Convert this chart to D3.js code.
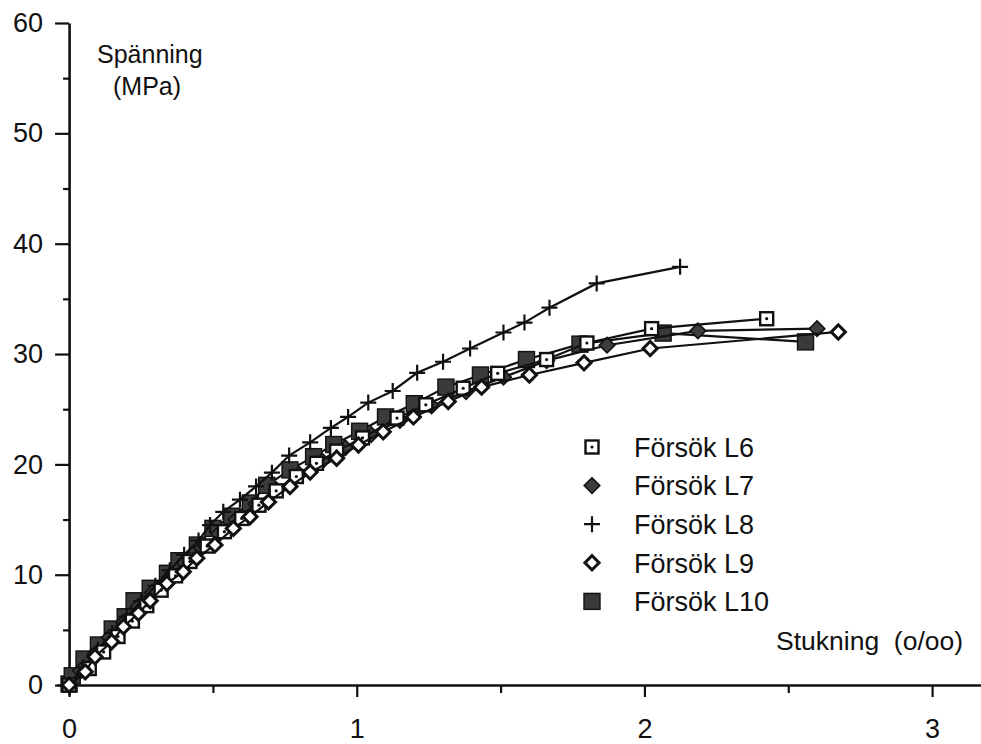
<!DOCTYPE html>
<html lang="sv">
<head>
<meta charset="UTF-8">
<title>Spänning - Stukning</title>
<script src="https://d3js.org/d3.v7.min.js"></script>
<style>
  body { margin: 0; background: #fff; }
  text { font-family: "Liberation Sans", Arial, Helvetica, sans-serif; fill: #111; }
</style>
</head>
<body>
<svg></svg>
<script>
  // [stukning (o/oo), spänning (MPa)]
  const seriesNames = ['Försök L6', 'Försök L7', 'Försök L8', 'Försök L9', 'Försök L10']

  const l6 = [[0, 0], [0.07, 1.5], [0.12, 3.0], [0.17, 4.4], [0.22, 5.8], [0.27, 7.2], [0.32, 8.6], [0.37, 9.9],
    [0.42, 11.2], [0.48, 12.6], [0.54, 13.9], [0.60, 15.1], [0.66, 16.3], [0.72, 17.6], [0.79, 18.9], [0.86, 20.1],
    [0.93, 21.2], [1.02, 22.4], [1.14, 24.2], [1.24, 25.4], [1.37, 26.9], [1.49, 28.25], [1.66, 29.5], [1.80, 31.0],
    [2.025, 32.3], [2.425, 33.2]]

  const l7 = [[0, 0], [0.04, 1.3], [0.09, 2.8], [0.14, 4.3], [0.19, 5.7], [0.24, 7.1], [0.29, 8.4], [0.35, 9.8],
    [0.40, 11.1], [0.46, 12.4], [0.52, 13.7], [0.58, 15.0], [0.65, 16.4], [0.72, 17.7], [0.80, 19.1], [0.88, 20.3],
    [0.96, 21.5], [1.05, 22.7], [1.15, 24.0], [1.26, 25.3], [1.38, 26.6], [1.51, 27.9], [1.66, 29.4], [1.87, 30.8],
    [2.186, 32.1], [2.6, 32.3]]

  const l8 = [[0, 0], [0.05, 1.6], [0.10, 3.2], [0.15, 4.7], [0.20, 6.2], [0.25, 7.6], [0.30, 9.0], [0.35, 10.4],
    [0.40, 11.8], [0.45, 13.1], [0.49, 14.5], [0.536, 15.7], [0.594, 16.8], [0.65, 18.0], [0.705, 19.25],
    [0.765, 20.8], [0.838, 22.0], [0.91, 23.3], [0.97, 24.3], [1.04, 25.6], [1.125, 26.65], [1.21, 28.3],
    [1.30, 29.3], [1.394, 30.5], [1.51, 31.95], [1.583, 32.85], [1.67, 34.2], [1.834, 36.4], [2.124, 37.9]]

  const l9 = [[0, 0], [0.056, 1.2], [0.09, 2.57], [0.148, 3.93], [0.189, 5.29], [0.241, 6.5], [0.282, 7.64],
    [0.34, 9.2], [0.397, 10.27], [0.444, 11.5], [0.507, 12.7], [0.571, 14.2], [0.629, 15.26], [0.693, 16.6],
    [0.768, 18.0], [0.838, 19.3], [0.93, 20.55], [1.006, 21.76], [1.092, 22.96], [1.197, 24.3], [1.318, 25.7],
    [1.434, 27.0], [1.60, 28.1], [1.79, 29.2], [2.02, 30.5], [2.674, 32.0]]

  const l10 = [[0, 0.1], [0.011, 0.84], [0.052, 2.36], [0.102, 3.63], [0.15, 5.08], [0.195, 6.19], [0.226, 7.64],
    [0.282, 8.77], [0.342, 10.13], [0.382, 11.27], [0.446, 12.69], [0.50, 14.2], [0.565, 15.3], [0.63, 16.5],
    [0.687, 18.1], [0.768, 19.5], [0.85, 20.7], [0.92, 21.8], [1.01, 23.0], [1.10, 24.3], [1.20, 25.5],
    [1.31, 27.0], [1.43, 28.1], [1.59, 29.5], [1.776, 30.9], [2.065, 31.9], [2.56, 31.1]]

  const xMajor = [0, 1, 2, 3]
  const xMinor = [0.5, 1.5, 2.5]
  const yMajor = [0, 10, 20, 30, 40, 50, 60]
  const yMinor = [5, 15, 25, 35, 45, 55]

  const width = 981
  const height = 744

  const svg = d3.select('svg')
    .attr('width', width)
    .attr('height', height)

  // axlarna sticker ut lite förbi nollan
  const x = d3.scaleLinear().domain([-0.042, 3.17]).range([57, 981])
  const y = d3.scaleLinear().domain([-0.9, 60]).range([695, 23])

  // y-axel
  svg.append('g')
    .attr('transform', `translate(${x(0)},0)`)
    .call(d3.axisLeft(y).tickValues(yMinor).tickSize(6).tickFormat('').tickSizeOuter(0))
    .call(g => g.select('.domain').remove())
  svg.append('g')
    .attr('class', 'yaxis')
    .attr('transform', `translate(${x(0)},0)`)
    .call(d3.axisLeft(y).tickValues(yMajor).tickSize(14).tickPadding(12).tickFormat(d3.format('d')).tickSizeOuter(0))

  // x-axel
  svg.append('g')
    .attr('transform', `translate(0,${y(0)})`)
    .call(d3.axisBottom(x).tickValues(xMinor).tickSize(8).tickFormat('').tickSizeOuter(0))
    .call(g => g.select('.domain').remove())
  svg.append('g')
    .attr('class', 'xaxis')
    .attr('transform', `translate(0,${y(0)})`)
    .call(d3.axisBottom(x).tickValues(xMajor).tickSize(12).tickPadding(22).tickFormat(d3.format('d')).tickSizeOuter(0))

  svg.selectAll('.domain').attr('stroke', '#111').attr('stroke-width', 2.6)
  svg.selectAll('.tick line').attr('stroke', '#111').attr('stroke-width', 2.2)
  svg.selectAll('.tick text').style('font-size', '27px').attr('fill', '#111')

  // axeltitlar
  svg.append('text').attr('x', 97).attr('y', 63).style('font-size', '25px').text('Spänning')
  svg.append('text').attr('x', 113).attr('y', 95).style('font-size', '25px').text('(MPa)')
  svg.append('text').attr('x', 776).attr('y', 650).style('font-size', '26.5px')
    .attr('xml:space', 'preserve').style('white-space', 'pre').text('Stukning  (o/oo)')

  // markörer
  function marker(sel, kind) {
    if (kind === 'L6') {
      sel.append('rect').attr('x', -6.5).attr('y', -6.5).attr('width', 13).attr('height', 13)
        .attr('fill', '#fff').attr('stroke', '#111').attr('stroke-width', 2.4)
      sel.append('circle').attr('r', 1.6).attr('fill', '#111')
    } else if (kind === 'L7') {
      sel.append('rect').attr('x', -5.5).attr('y', -5.5).attr('width', 11).attr('height', 11)
        .attr('transform', 'rotate(45)')
        .attr('fill', '#3d3d3d').attr('stroke', '#111').attr('stroke-width', 1.6)
    } else if (kind === 'L8') {
      sel.append('path').attr('d', 'M-8,0H8M0,-8V8')
        .attr('stroke', '#111').attr('stroke-width', 2.2).attr('fill', 'none')
    } else if (kind === 'L9') {
      sel.append('rect').attr('x', -5).attr('y', -5).attr('width', 10).attr('height', 10)
        .attr('transform', 'rotate(45)')
        .attr('fill', '#fff').attr('stroke', '#111').attr('stroke-width', 3)
    } else {
      sel.append('rect').attr('x', -8).attr('y', -8).attr('width', 16).attr('height', 16)
        .attr('fill', '#3a3a3a').attr('stroke', '#111').attr('stroke-width', 1.4)
    }
  }

  const series = [
    { key: 'L10', data: l10 },
    { key: 'L7', data: l7 },
    { key: 'L8', data: l8 },
    { key: 'L6', data: l6 },
    { key: 'L9', data: l9 }
  ]

  const line = d3.line().x(d => x(d[0])).y(d => y(d[1]))

  series.forEach(s => {
    const g = svg.append('g')
    g.append('path')
      .datum(s.data)
      .attr('d', line)
      .attr('fill', 'none')
      .attr('stroke', '#111')
      .attr('stroke-width', 2.2)
    g.selectAll('g')
      .data(s.data)
      .join('g')
      .attr('transform', d => `translate(${x(d[0])},${y(d[1])})`)
      .each(function () { marker(d3.select(this), s.key) })
  })

  // teckenförklaring
  const legend = svg.append('g').attr('transform', 'translate(592,447)')
  seriesNames.forEach((name, i) => {
    const row = legend.append('g').attr('transform', `translate(0,${i * 38.6})`)
    marker(row, name.split(' ')[1])
    row.append('text')
      .attr('x', 42)
      .attr('dy', '0.36em')
      .style('font-size', '27px')
      .text(name)
  })
</script>
</body>
</html>
